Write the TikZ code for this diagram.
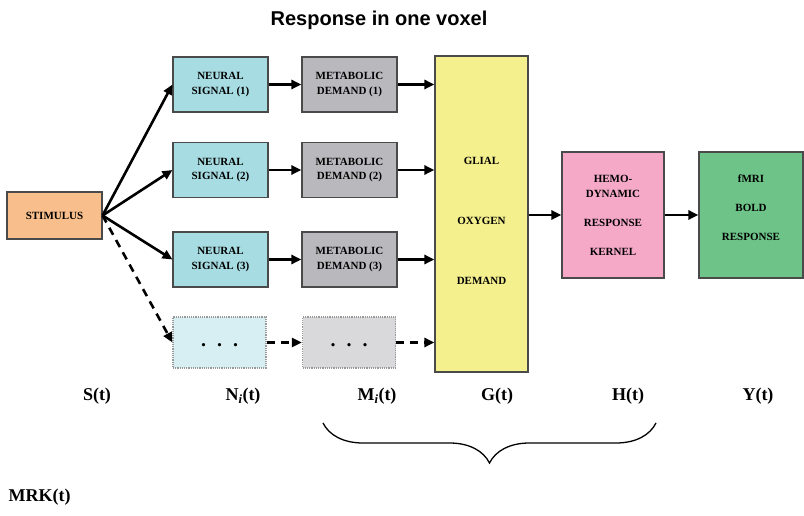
\documentclass[tikz,border=0pt]{standalone}
\usepackage{fontspec}
\setmainfont{Liberation Serif}
\setsansfont{Liberation Sans}
\usetikzlibrary{arrows.meta,positioning,decorations.pathreplacing}
\definecolor{vxorange}{HTML}{F8BF8C}
\definecolor{vxcyan}{HTML}{A6DCE2}
\definecolor{vxgrey}{HTML}{B9B9BD}
\definecolor{vxyellow}{HTML}{F5F08E}
\definecolor{vxpink}{HTML}{F5A9C6}
\definecolor{vxgreen}{HTML}{6DC388}
\definecolor{vxedge}{HTML}{4A4A4A}
\tikzset{
  box/.style={draw=vxedge, line width=1.1pt, align=center, inner sep=0pt, font=\bfseries\fontsize{11}{14.5}\selectfont},
  sti/.style={box, fill=vxorange, minimum width=95pt, minimum height=47pt},
  neu/.style={box, fill=vxcyan, minimum width=95pt, minimum height=55pt},
  met/.style={box, fill=vxgrey, minimum width=95pt, minimum height=55pt},
  ghost/.style={draw=gray!80, densely dotted, line width=1.2pt, minimum width=93pt, minimum height=51pt, font=\bfseries\fontsize{20}{22}\selectfont},
  gli/.style={box, fill=vxyellow, minimum width=93pt, minimum height=316pt, font=\bfseries\fontsize{11}{60}\selectfont, text height=142pt},
  hem/.style={box, fill=vxpink, minimum width=102pt, minimum height=126pt, font=\bfseries\fontsize{11}{15}\selectfont},
  fmr/.style={box, fill=vxgreen, minimum width=104pt, minimum height=126pt, font=\bfseries\fontsize{11}{15}\selectfont, text depth=14pt},
  lab/.style={font=\bfseries\fontsize{18}{21}\selectfont},
  arr/.style={-{Triangle[length=10pt,width=9pt]}, line width=2.6pt},
  darr/.style={arr, dash pattern=on 8pt off 6pt},
}
\begin{document}
\begin{tikzpicture}[x=1pt,y=-1pt]
  \useasboundingbox (0,0) rectangle (804,516);
  \node[font=\sffamily\bfseries\fontsize{20}{24}\selectfont] (title) at (379,20) {Response in one voxel};
  \node[sti] (stim) at (54.5,215.5) {STIMULUS};
  \foreach \i/\y in {1/84.5,2/170,3/259.5}
    { \node[neu] (n\i) at (220.5,\y) {NEURAL\\SIGNAL (\i)}; \node[met] (m\i) at (349.5,\y) {METABOLIC\\DEMAND (\i)}; }
  \node[ghost, fill=vxcyan!45] (n4) at (219.5,342.5) {.\hspace{11pt}.\hspace{11pt}.\strut};
  \node[ghost, fill=vxgrey!55] (m4) at (349,342.5) {.\hspace{11pt}.\hspace{11pt}.\strut};
  \node[gli] (glia) at (481.5,214) {GLIAL\\OXYGEN\\DEMAND};
  \node[hem] (hemo) at (613,215) {HEMO-\\DYNAMIC\\[14pt]RESPONSE\\[14pt]KERNEL};
  \node[fmr] (fmri) at (751,215) {fMRI\\[14pt]BOLD\\[14pt]RESPONSE};
  % connectors
  \foreach \i in {1,2,3}
    { \draw[arr] (stim.east) -- (n\i.west); \draw[arr] (n\i) -- (m\i); \draw[arr] (m\i) -- (m\i -| glia.west); }
  \draw[darr] (stim.east) -- (n4.west);
  \draw[darr] (n4) -- (m4);
  \draw[darr] (m4) -- (m4 -| glia.west);
  \draw[arr] (glia.east |- hemo) -- (hemo.west);
  \draw[arr] (hemo) -- (fmri);
  % signals
  \foreach \n/\x/\t in {s/97/S(t),n/243/{N\textsubscript{\textit{i}}(t)},m/377/{M\textsubscript{\textit{i}}(t)},g/497/G(t),h/628/H(t),y/758/Y(t)}
    { \node[lab] (l\n) at (\x,396) {\t}; }
  \coordinate (bl) at (323,423);
  \coordinate (br) at (656,423);
  \draw[line width=1.3pt, decorate, decoration={brace, amplitude=40pt, mirror}] (bl) -- (br);
  \node[lab, anchor=west] (mrk) at (5,497) {MRK(t)};
\end{tikzpicture}
\end{document}
